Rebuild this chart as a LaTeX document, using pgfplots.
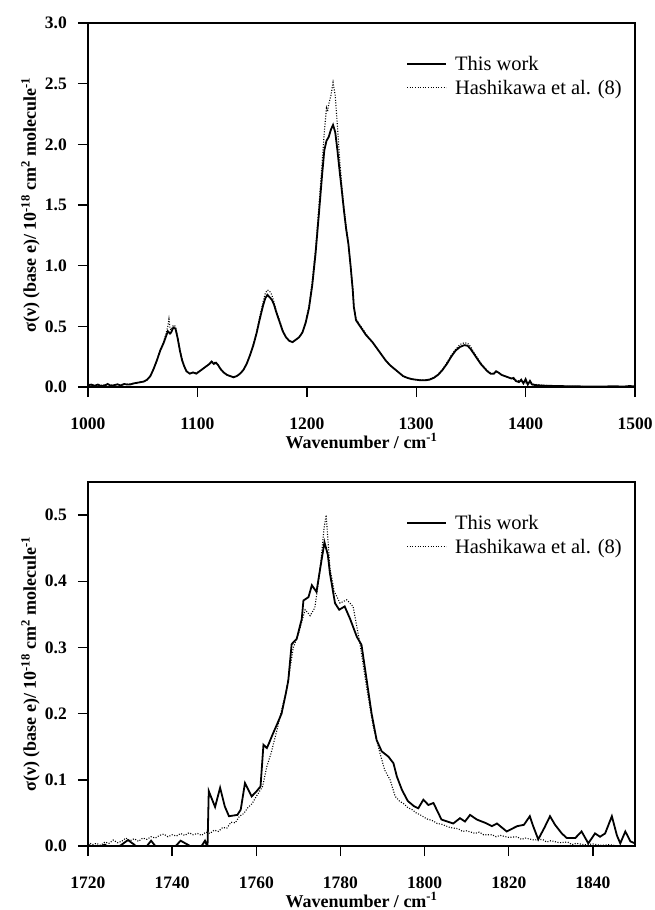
\documentclass[border=0pt]{standalone}
\usepackage{fontspec}
\setmainfont{Liberation Serif}
\usepackage{pgfplots}
\pgfplotsset{compat=1.18}

% spectra (wavenumber / cm^-1, cross section / 1e-18)
\pgfplotstableread{
w v
1000 0.015
1003 0.02
1006 0.01
1009 0.02
1012 0.008
1015 0.012
1018 0.025
1021 0.01
1024 0.015
1027 0.022
1030 0.012
1033 0.025
1036 0.02
1039 0.022
1042 0.03
1045 0.035
1048 0.04
1051 0.045
1054 0.06
1057 0.09
1060 0.15
1063 0.22
1066 0.30
1069 0.36
1071 0.41
1073 0.46
1075 0.44
1076 0.45
1078 0.49
1080 0.48
1082 0.40
1084 0.30
1086 0.22
1088 0.17
1090 0.13
1093 0.11
1096 0.12
1099 0.11
1102 0.13
1105 0.15
1108 0.17
1111 0.19
1113 0.21
1115 0.19
1117 0.20
1119 0.18
1121 0.15
1124 0.12
1127 0.10
1130 0.09
1133 0.08
1136 0.09
1139 0.11
1142 0.14
1145 0.19
1148 0.26
1151 0.34
1154 0.44
1157 0.56
1160 0.67
1162 0.73
1164 0.76
1166 0.74
1168 0.72
1170 0.68
1172 0.62
1175 0.54
1178 0.46
1181 0.41
1184 0.38
1187 0.37
1190 0.39
1193 0.41
1196 0.45
1199 0.53
1202 0.65
1205 0.84
1208 1.10
1211 1.42
1214 1.75
1216 1.95
1218 2.03
1220 2.06
1222 2.12
1224 2.16
1226 2.10
1228 1.95
1230 1.78
1232 1.62
1234 1.45
1236 1.30
1238 1.18
1240 1.00
1242 0.80
1243 0.66
1245 0.55
1248 0.51
1251 0.47
1254 0.43
1257 0.40
1260 0.37
1264 0.32
1268 0.27
1272 0.22
1276 0.18
1280 0.15
1284 0.12
1288 0.09
1292 0.075
1296 0.065
1300 0.06
1304 0.055
1308 0.055
1312 0.06
1316 0.075
1320 0.10
1324 0.14
1328 0.19
1332 0.25
1336 0.30
1340 0.33
1344 0.345
1347 0.34
1350 0.31
1353 0.27
1356 0.23
1359 0.19
1362 0.16
1365 0.13
1368 0.11
1371 0.11
1373 0.13
1375 0.12
1378 0.10
1381 0.09
1384 0.08
1387 0.07
1389 0.075
1391 0.05
1394 0.04
1396 0.06
1398 0.03
1400 0.065
1402 0.02
1404 0.05
1406 0.02
1410 0.015
1415 0.012
1420 0.01
1430 0.008
1440 0.006
1450 0.005
1460 0.004
1470 0.004
1480 0.006
1490 0.004
1495 0.008
1500 0.005
}\thisworkA

\pgfplotstableread{
w v
1000 0.01
1005 0.015
1010 0.012
1015 0.018
1020 0.015
1025 0.02
1030 0.02
1035 0.022
1040 0.028
1045 0.035
1048 0.04
1051 0.045
1054 0.06
1057 0.09
1060 0.15
1063 0.22
1066 0.31
1069 0.37
1071 0.43
1073 0.50
1074 0.56
1075 0.48
1076 0.47
1078 0.51
1080 0.50
1082 0.41
1084 0.31
1086 0.23
1088 0.17
1090 0.13
1093 0.11
1096 0.12
1099 0.115
1102 0.13
1105 0.15
1108 0.17
1111 0.195
1113 0.21
1115 0.20
1117 0.205
1119 0.18
1121 0.15
1124 0.12
1127 0.10
1130 0.09
1133 0.085
1136 0.09
1139 0.11
1142 0.14
1145 0.19
1148 0.26
1151 0.35
1154 0.45
1157 0.58
1160 0.70
1162 0.77
1164 0.80
1166 0.79
1168 0.76
1170 0.70
1172 0.63
1175 0.55
1178 0.47
1181 0.41
1184 0.38
1187 0.37
1190 0.39
1193 0.41
1196 0.45
1199 0.54
1202 0.67
1205 0.87
1208 1.14
1211 1.48
1214 1.85
1216 2.10
1218 2.30
1219 2.27
1220 2.33
1222 2.40
1224 2.51
1226 2.40
1228 2.15
1230 1.88
1232 1.66
1234 1.48
1236 1.32
1238 1.19
1240 1.01
1242 0.81
1243 0.67
1245 0.56
1248 0.52
1251 0.48
1254 0.44
1257 0.40
1260 0.37
1264 0.32
1268 0.27
1272 0.22
1276 0.18
1280 0.15
1284 0.12
1288 0.09
1292 0.075
1296 0.065
1300 0.06
1304 0.058
1308 0.058
1312 0.065
1316 0.08
1320 0.105
1324 0.145
1328 0.20
1332 0.26
1336 0.31
1340 0.35
1344 0.365
1347 0.36
1350 0.33
1353 0.28
1356 0.24
1359 0.20
1362 0.165
1365 0.135
1368 0.115
1371 0.11
1373 0.125
1375 0.12
1378 0.10
1381 0.09
1384 0.08
1387 0.07
1390 0.06
1394 0.05
1398 0.04
1402 0.03
1406 0.025
1410 0.02
1415 0.015
1420 0.012
1425 0.01
1430 0.008
1435 0.006
1440 0.005
1450 0.004
1460 0.003
1480 0.003
1500 0.002
}\hashiA

\pgfplotstableread{
w v
1720 0.003
1721 -0.004
1722 -0.003
1724 0.002
1726 -0.006
1728 0.002
1729.5 0.009
1731 0.002
1732.5 -0.008
1734 0.0
1735 0.008
1736.5 -0.004
1738 -0.012
1740 -0.006
1742 0.008
1744 0.001
1745.5 -0.008
1747 0.0
1747.8 0.008
1748.4 -0.002
1748.7 0.083
1750.2 0.059
1751.4 0.088
1752.5 0.06
1753.5 0.045
1755.5 0.047
1756.3 0.055
1757.3 0.095
1758.9 0.075
1760.1 0.083
1761 0.09
1761.7 0.153
1762.5 0.148
1763 0.155
1763.7 0.166
1765 0.185
1766 0.20
1767 0.23
1767.6 0.25
1768.4 0.305
1769.6 0.313
1770.8 0.343
1771.2 0.371
1772.4 0.376
1773.2 0.394
1774.3 0.384
1775.2 0.42
1776.2 0.459
1777 0.44
1777.5 0.412
1778.7 0.367
1779.7 0.357
1781 0.362
1782.3 0.343
1783.9 0.316
1785 0.304
1786.2 0.252
1787.4 0.20
1788.6 0.16
1789.8 0.143
1791.4 0.135
1792.6 0.125
1793.4 0.105
1794.6 0.085
1796 0.068
1797.5 0.06
1798.5 0.057
1799.7 0.07
1800.9 0.062
1802.1 0.065
1804 0.04
1806.8 0.034
1808.4 0.042
1809.6 0.037
1810.8 0.047
1812.4 0.04
1814.4 0.035
1816 0.03
1817.2 0.034
1819.5 0.022
1822 0.03
1823.6 0.032
1825 0.045
1825.8 0.03
1827 0.01
1828.5 0.028
1829.8 0.045
1831 0.032
1832.6 0.019
1833.8 0.012
1835.8 0.012
1837.3 0.022
1838.9 0.004
1840.5 0.019
1841.7 0.014
1842.9 0.019
1844.5 0.045
1845.7 0.016
1846.5 0.004
1847.7 0.022
1848.9 0.007
1850 0.004
}\thisworkB

\pgfplotstableread{
w v
1720 0.006
1721 0.002
1722 0.004
1723 0.001
1724 0.006
1725 0.004
1726 0.009
1727 0.005
1728 0.007
1729 0.012
1730 0.008
1731 0.011
1732 0.007
1733 0.012
1734 0.010
1735 0.014
1736 0.012
1737 0.016
1738 0.018
1739 0.014
1740 0.017
1741 0.015
1742 0.019
1743 0.016
1744 0.020
1745 0.017
1746 0.019
1747 0.016
1748 0.021
1749 0.019
1750 0.024
1751 0.022
1752 0.028
1753 0.027
1754 0.036
1755 0.035
1756 0.045
1757 0.049
1758 0.058
1759 0.064
1760 0.075
1761.5 0.09
1762.5 0.12
1763.5 0.14
1764.9 0.175
1766 0.205
1767.2 0.236
1768.8 0.30
1770 0.32
1771.6 0.357
1772.8 0.348
1773.9 0.36
1774.8 0.40
1775.5 0.44
1776.1 0.48
1776.6 0.50
1777.5 0.42
1778.5 0.385
1779.9 0.367
1781.5 0.372
1783 0.362
1784.6 0.307
1786.2 0.24
1787.8 0.18
1789.4 0.14
1790.5 0.115
1791.8 0.10
1793 0.075
1794 0.068
1795 0.064
1796 0.058
1797 0.055
1798 0.050
1799 0.047
1800.5 0.041
1802 0.038
1803 0.034
1804 0.033
1806 0.028
1808 0.026
1809 0.022
1810 0.023
1812 0.019
1813 0.021
1814 0.017
1816 0.017
1817 0.014
1818 0.016
1820 0.013
1822 0.014
1823 0.010
1824 0.012
1826 0.009
1828 0.010
1829 0.006
1830 0.008
1832 0.005
1834 0.006
1835 0.002
1836 0.004
1838 0.002
1840 0.003
1842 0.001
1844 0.002
1846 0.0
1850 0.0
}\hashiB

\pgfplotsset{
  spec/.style={
    scale only axis, width=547pt, height=364pt,
    axis line style={line width=1.6pt},
    every tick/.style={line width=1.4pt, black},
    major tick length=10pt,
    tick align=outside, tick pos=left,
    ymin=0,
    /pgf/number format/assume math mode=true,
    tick label style={font=\fontsize{17.5}{20}\selectfont\bfseries},
    x tick label style={/pgf/number format/1000 sep={}, anchor=base, yshift=-32pt},
    y tick label style={/pgf/number format/fixed, /pgf/number format/fixed zerofill,
      /pgf/number format/precision=1, anchor=east, xshift=-11pt, inner xsep=0pt},
    label style={font=\fontsize{18}{20}\selectfont\bfseries},
    xlabel style={at={(axis description cs:0.5,-0.1676)}, anchor=base},
    ylabel style={at={(axis description cs:-0.0951,0.5)}, anchor=base},
    xlabel={Wavenumber / cm\textsuperscript{-1}},
    ylabel={σ(ν) (base e)/ 10\textsuperscript{-18} cm\textsuperscript{2} molecule\textsuperscript{-1}},
    legend style={draw=none, fill=none, at={(axis description cs:0.5814,0.912)},
      anchor=north west, font=\fontsize{20.5}{24}\selectfont, row sep=0pt,
      column sep=8pt, inner sep=0pt,
      nodes={inner xsep=0pt, inner ysep=0pt, text height=15pt, text depth=9pt}},
    legend cell align=left,
    legend image code/.code={\draw[#1] (0pt,3.5pt) -- (39pt,3.5pt);},
  },
  work/.style={black, line width=1.8pt},
  hashi/.style={black, line width=1.1pt, dash pattern=on 1pt off 1.6pt},
}

\begin{document}
\begin{tikzpicture}
\useasboundingbox (0,0) rectangle (655pt,-910pt);

\begin{axis}[spec, at={(88pt,-23pt)}, anchor=north west,
  xmin=1000, xmax=1500, ymax=3.0,
  xtick={1000,1100,1200,1300,1400,1500},
  ytick={0,0.5,1.0,1.5,2.0,2.5,3.0}]
  \addplot[work] table[x=w,y=v] {\thisworkA};
  \addplot[hashi] table[x=w,y=v] {\hashiA};
  \legend{This work, Hashikawa et al. (8)}
  \node[anchor=base west, font=\fontsize{17.5}{20}\selectfont\bfseries]
    at (axis description cs:-0.137,0.989) {a)};
\end{axis}

\begin{axis}[spec, at={(88pt,-482pt)}, anchor=north west,
  xmin=1720, xmax=1850, ymax=0.55,
  xtick={1720,1740,1760,1780,1800,1820,1840},
  ytick={0,0.1,0.2,0.3,0.4,0.5}]
  \addplot[work] table[x=w,y=v] {\thisworkB};
  \addplot[hashi] table[x=w,y=v] {\hashiB};
  \legend{This work, Hashikawa et al. (8)}
  \node[anchor=base west, font=\fontsize{17.5}{20}\selectfont\bfseries]
    at (axis description cs:-0.137,0.965) {b)};
\end{axis}
\end{tikzpicture}
\end{document}
